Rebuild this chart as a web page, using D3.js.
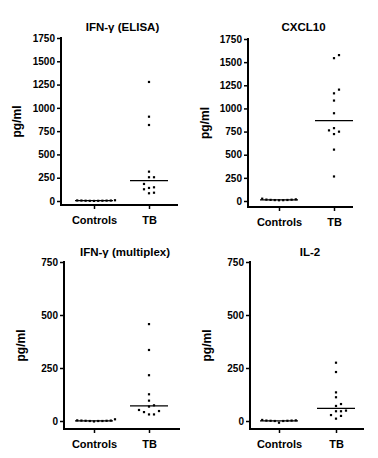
<!DOCTYPE html>
<html>
<head>
<meta charset="utf-8">
<script src="https://cdn.jsdelivr.net/npm/d3@7"></script>
<style>
  body { margin: 0; background: #fff; }
  text { font-family: "Liberation Sans", Arial, sans-serif; font-weight: bold; fill: #000; }
</style>
</head>
<body>
<div id="chart"></div>
<script>
/////////////////////////////////////
///      DATA
/////////////////////////////////////
var groups = ["Controls", "TB"];

var titles = ["IFN-\u03b3 (ELISA)", "CXCL10", "IFN-\u03b3 (multiplex)", "IL-2"];

var ifngElisaControls = [2, 3, 5, 1, 4, 6, 2, 3, 8, 5];
var ifngElisaTB = [1278, 905, 816, 315, 255, 255, 183, 147, 126, 140, 83, 89];

var cxcl10Controls = [12, 25, 15, 10, 8, 14, 9, 11, 18];
var cxcl10TB = [1576, 1543, 1203, 1163, 1085, 948, 787, 763, 749, 723, 555, 265];

var ifngMultiControls = [0, 2, 8, 1, 0, 3, -2, 1, 0, 2];
var ifngMultiTB = [457, 335, 216, 126, 96, 74, 68, 52, 47, 42, 31, 31];

var il2Controls = [0, 2, 5, 1, -8, 3, 0, 1, 2];
var il2TB = [275, 231, 135, 112, 80, 71, 49, 46, 46, 28, 24, 11];

var ticksBig = [0, 250, 500, 750, 1000, 1250, 1500, 1750];
var ticksSmall = [0, 250, 500, 750];

/////////////////////////////////////
///      LAYOUT
/////////////////////////////////////
var panels = [
  {title: titles[0], data: [ifngElisaControls, ifngElisaTB], ticks: ticksBig,
   left: 61, right: 178, yTop: 38, yZero: 201, xAxisY: 205, cats: [94, 149], titleY: 31, labelX: 21},
  {title: titles[1], data: [cxcl10Controls, cxcl10TB], ticks: ticksBig,
   left: 248, right: 353, yTop: 39, yZero: 201, xAxisY: 207, cats: [279, 334], titleY: 31, labelX: 209},
  {title: titles[2], data: [ifngMultiControls, ifngMultiTB], ticks: ticksSmall,
   left: 64, right: 180, yTop: 262, yZero: 421, xAxisY: 429, cats: [94, 149], titleY: 256, labelX: 25},
  {title: titles[3], data: [il2Controls, il2TB], ticks: ticksSmall,
   left: 250, right: 364, yTop: 262, yZero: 421, xAxisY: 429, cats: [279, 336], titleY: 256, labelX: 211}
];

var svg = d3.select("#chart").append("svg")
  .attr("width", 378)
  .attr("height", 458);

// simple column-swarm so points with close values sit side by side
function swarm(values, y, step, gap){
  var placed = [];
  var sorted = values.map(function(v, i){ return {v: v, i: i}; })
    .sort(function(a, b){ return a.v - b.v; });
  sorted.forEach(function(p){
    var py = y(p.v);
    for (var k = 0; k < 20; k++){
      var col = k === 0 ? 0 : (k % 2 ? (k + 1) / 2 : -k / 2);
      var hit = placed.some(function(q){ return q.col === col && Math.abs(q.y - py) < gap; });
      if (!hit){ placed.push({v: p.v, y: py, col: col, dx: col * step}); break; }
    }
  });
  return placed;
}

function makePanel(p){
  var g = svg.append("g");
  var y = d3.scaleLinear()
    .domain([0, p.ticks[p.ticks.length - 1]])
    .range([p.yZero, p.yTop]);
  var x = d3.scalePoint()
    .domain(groups)
    .range(p.cats);

  // y axis ticks + labels
  var yAxis = d3.axisLeft(y)
    .tickValues(p.ticks)
    .tickSize(4)
    .tickPadding(2)
    .tickFormat(d3.format("d"));
  var ya = g.append("g")
    .attr("transform", "translate(" + p.left + ",0)")
    .call(yAxis);
  ya.select(".domain").remove();
  ya.selectAll(".tick line").attr("stroke", "#000").attr("stroke-width", 1.5);
  ya.selectAll(".tick text").style("font-size", "10px");

  // x axis ticks + labels
  var xAxis = d3.axisBottom(x)
    .tickSize(4)
    .tickPadding(7);
  var xa = g.append("g")
    .attr("transform", "translate(0," + p.xAxisY + ")")
    .call(xAxis);
  xa.select(".domain").remove();
  xa.selectAll(".tick line").attr("stroke", "#000").attr("stroke-width", 1.5);
  xa.selectAll(".tick text").style("font-size", "11px");

  // axis lines
  g.append("line")
    .attr("x1", p.left).attr("x2", p.left)
    .attr("y1", p.yTop - 1).attr("y2", p.xAxisY + 1)
    .attr("stroke", "#000").attr("stroke-width", 2);
  g.append("line")
    .attr("x1", p.left - 1).attr("x2", p.right)
    .attr("y1", p.xAxisY).attr("y2", p.xAxisY)
    .attr("stroke", "#000").attr("stroke-width", 2);

  // title + y label
  g.append("text")
    .attr("x", (p.left + p.right) / 2 + 3)
    .attr("y", p.titleY)
    .attr("text-anchor", "middle")
    .style("font-size", "11.5px")
    .text(p.title);
  g.append("text")
    .attr("transform", "translate(" + p.labelX + "," + ((p.yTop + p.xAxisY) / 2) + ") rotate(-90)")
    .attr("text-anchor", "middle")
    .style("font-size", "12px")
    .text("pg/ml");

  // points + median lines
  groups.forEach(function(grp, gi){
    var vals = p.data[gi];
    var cx = x(grp);
    var pts = swarm(vals, y, gi === 0 ? 4.2 : 5, 4.5);
    g.selectAll(".pt" + gi)
      .data(pts)
      .enter().append("rect")
      .attr("x", function(d){ return cx + d.dx - 1.1; })
      .attr("y", function(d){ return d.y - 1.1; })
      .attr("width", 2.2)
      .attr("height", 2.2)
      .attr("fill", "#000");
    var m = d3.median(vals);
    g.append("line")
      .attr("x1", cx - 19).attr("x2", cx + 19)
      .attr("y1", y(m)).attr("y2", y(m))
      .attr("stroke", "#000").attr("stroke-width", 1.3);
  });
}

panels.forEach(makePanel);
</script>
</body>
</html>
